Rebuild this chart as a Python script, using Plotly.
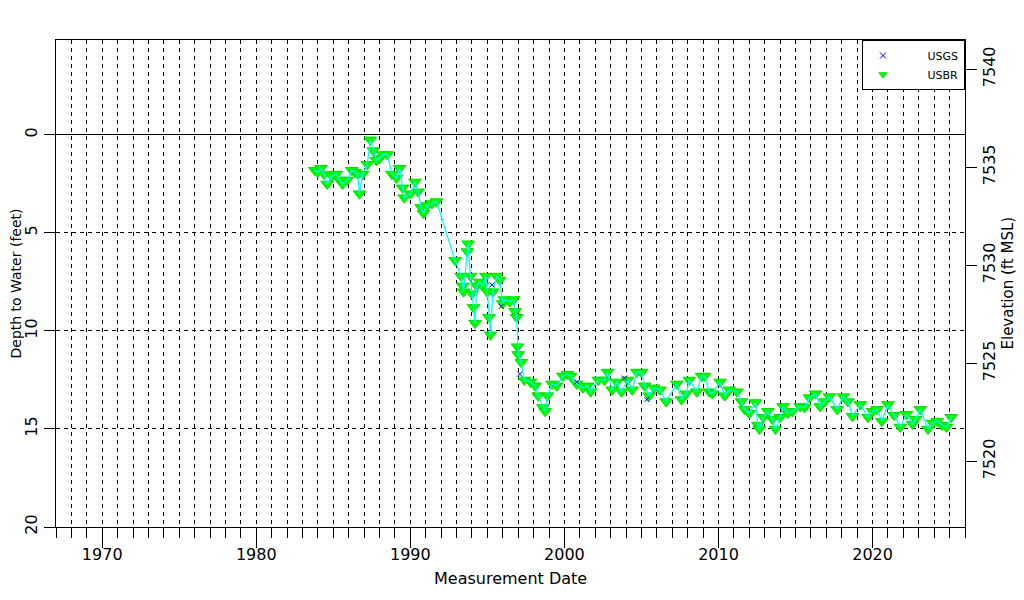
import plotly.graph_objects as go

# USBR measurements (decimal year, depth to water in feet)
usbr_year = [
    1983.8, 1984.0, 1984.2, 1984.4, 1984.6, 1984.9, 1985.2, 1985.4, 1985.6, 1985.9,
    1986.2, 1986.4, 1986.6, 1986.7, 1986.9, 1987.2, 1987.4, 1987.6, 1987.8, 1988.0,
    1988.2, 1988.5, 1988.8, 1989.1, 1989.3, 1989.5, 1989.6, 1990.0, 1990.3, 1990.5,
    1990.7, 1990.85, 1991.1, 1991.4, 1991.7, 1992.9, 1993.3, 1993.4, 1993.45, 1993.7,
    1993.75, 1993.9, 1994.0, 1994.1, 1994.2, 1994.3, 1994.5, 1994.7, 1994.9, 1995.0,
    1995.1, 1995.2, 1995.35, 1995.6, 1995.8, 1996.0, 1996.1, 1996.45, 1996.7, 1996.8,
    1996.9, 1996.95, 1997.0, 1997.2, 1997.4, 1997.8, 1998.1, 1998.3, 1998.6, 1998.75,
    1998.9, 1999.2, 1999.5, 1999.9, 2000.2, 2000.4, 2000.8, 2001.2, 2001.5, 2001.7,
    2002.2, 2002.6, 2002.8, 2003.1, 2003.4, 2003.7, 2004.1, 2004.4, 2004.7, 2005.0,
    2005.2, 2005.5, 2005.8, 2006.2, 2006.6, 2007.3, 2007.6, 2007.9, 2008.1, 2008.6,
    2008.9, 2009.1, 2009.4, 2009.6, 2010.1, 2010.4, 2010.7, 2011.2, 2011.5, 2011.7,
    2012.0, 2012.4, 2012.55, 2012.65, 2012.9, 2013.2, 2013.5, 2013.7, 2014.0, 2014.2,
    2014.5, 2014.8, 2015.3, 2015.6, 2015.9, 2016.3, 2016.6, 2016.9, 2017.2, 2017.7,
    2018.1, 2018.4, 2018.7, 2019.2, 2019.7, 2020.0, 2020.3, 2020.6, 2021.0, 2021.4,
    2021.8, 2022.2, 2022.6, 2022.8, 2023.1, 2023.6, 2023.9, 2024.2, 2024.5, 2024.8,
    2025.1,
]
usbr_depth = [
    1.8, 1.9, 1.7, 2.0, 2.5, 2.1, 2.0, 2.3, 2.5, 2.3,
    1.8, 1.9, 2.0, 3.0, 2.0, 1.5, 0.25, 0.8, 1.3, 1.2,
    1.0, 1.0, 2.0, 2.2, 1.7, 2.7, 3.2, 3.0, 2.4, 2.9,
    3.7, 4.0, 3.6, 3.5, 3.4, 6.4, 7.2, 7.7, 8.0, 5.95,
    5.55, 7.2, 8.1, 8.8, 9.6, 7.7, 7.5, 7.7, 7.2, 8.0,
    9.3, 10.2, 8.0, 7.2, 7.4, 8.6, 8.4, 8.5, 8.4, 9.0,
    9.3, 10.8, 11.2, 11.6, 12.5, 12.6, 12.8, 13.3, 13.9, 14.1,
    13.3, 12.7, 12.8, 12.3, 12.2, 12.3, 12.7, 12.9, 12.8, 13.1,
    12.5, 12.5, 12.1, 13.0, 12.6, 13.1, 12.5, 13.0, 12.1, 12.1,
    12.8, 13.3, 12.9, 13.0, 13.6, 12.7, 13.5, 13.2, 12.5, 13.1,
    12.3, 12.3, 13.1, 13.2, 12.6, 13.3, 13.0, 13.1, 13.6, 14.0,
    14.2, 13.65, 14.8, 15.0, 14.4, 14.1, 14.5, 15.0, 14.4, 13.85,
    14.2, 14.1, 13.85, 13.9, 13.4, 13.2, 13.85, 13.6, 13.35, 14.0,
    13.35, 13.6, 14.35, 13.75, 14.4, 14.1, 14.0, 14.6, 13.75, 14.3,
    14.9, 14.25, 14.75, 14.5, 14.0, 15.0, 14.7, 14.6, 14.8, 14.9,
    14.4,
]

# USGS measurements
usgs_year = [1995.3, 1995.9, 1997.1, 2000.8, 2003.9, 2005.35]
usgs_depth = [7.65, 8.75, 12.2, 12.6, 12.4, 13.5]

land_surface = 7536.65
depth_range = [20, -4.84]
elev_range = [land_surface - depth_range[0], land_surface - depth_range[1]]

fig = go.Figure()

fig.add_trace(go.Scatter(
    x=usbr_year, y=usbr_depth, mode='markers', showlegend=False,
    marker=dict(symbol='triangle-down', size=11, color='#00ff00',
                line=dict(color='#00dd00', width=1))
))
fig.add_trace(go.Scatter(
    x=usbr_year, y=usbr_depth, mode='lines', showlegend=False,
    line=dict(color='#00ffff', width=1.3), hoverinfo='skip'
))
fig.add_trace(go.Scatter(
    x=usgs_year, y=usgs_depth, mode='markers', showlegend=False,
    marker=dict(symbol='x-thin-open', size=5, color='blue',
                line=dict(color='blue', width=1))
))
# legend-only entries with small symbols (names padded to push text right)
pad = '\u00a0' * 7
fig.add_trace(go.Scatter(
    x=[None], y=[None], mode='markers', name=pad + 'USGS',
    marker=dict(symbol='x-thin-open', size=6, color='blue',
                line=dict(color='blue', width=1))
))
fig.add_trace(go.Scatter(
    x=[None], y=[None], mode='markers', name=pad + 'USBR',
    marker=dict(symbol='triangle-down', size=7, color='#00ff00',
                line=dict(color='#00dd00', width=1))
))
# invisible trace to drive the right-hand elevation axis
fig.add_trace(go.Scatter(
    x=[usbr_year[0]], y=[land_surface - usbr_depth[0]], yaxis='y2',
    mode='markers', marker=dict(opacity=0), showlegend=False, hoverinfo='skip'
))

dash = '4px,4px'
font_family = 'DejaVu Sans'

fig.update_layout(
    width=1024, height=600,
    autosize=False,
    margin=dict(l=48, r=67, t=32, b=81),
    plot_bgcolor='white', paper_bgcolor='white',
    font=dict(family=font_family, size=16, color='black'),
    xaxis=dict(
        range=[1967, 2026], tickmode='linear', tick0=1970, dtick=10,
        ticks='outside', ticklen=20, tickcolor='black', automargin=False,
        ticklabelstandoff=-7,
        showgrid=True, gridcolor='black', griddash=dash, gridwidth=1,
        minor=dict(dtick=1, ticks='outside', ticklen=10, tickcolor='black',
                   showgrid=True, gridcolor='black', griddash=dash),
        showline=True, linecolor='black', mirror=True, zeroline=False,
    ),
    yaxis=dict(
        range=depth_range, tickvals=[0, 5, 10, 15, 20],
        ticks='outside', ticklen=11, tickcolor='black', tickangle=-90,
        ticklabelstandoff=1, automargin=False,
        showgrid=True, gridcolor='black', griddash=dash, gridwidth=1,
        zeroline=True, zerolinecolor='black', zerolinewidth=1,
        showline=True, linecolor='black', mirror=True,
    ),
    yaxis2=dict(
        overlaying='y', side='right', range=elev_range,
        tickvals=[7520, 7525, 7530, 7535, 7540],
        ticks='outside', ticklen=11, tickcolor='black', tickangle=-90,
        ticklabelstandoff=-1, showgrid=False, zeroline=False, automargin=False,
    ),
    legend=dict(
        x=1, y=1, xanchor='right', yanchor='top',
        bgcolor='white', bordercolor='black', borderwidth=1,
        font=dict(size=11), itemsizing='trace', tracegroupgap=0,
    ),
    showlegend=True,
    annotations=[
        dict(text='Measurement Date', xref='paper', yref='paper', x=0.5, y=0,
             xanchor='center', yanchor='middle', yshift=-51, showarrow=False),
        dict(text='Depth to Water (feet)', xref='paper', yref='paper', x=0, y=0.5,
             xanchor='center', yanchor='middle', xshift=-41, textangle=-90,
             showarrow=False, font=dict(size=14)),
        dict(text='Elevation (ft MSL)', xref='paper', yref='paper', x=1, y=0.5,
             xanchor='center', yanchor='middle', xshift=42, textangle=-90,
             showarrow=False, font=dict(size=15)),
    ],
)

fig.write_html("out.html")
